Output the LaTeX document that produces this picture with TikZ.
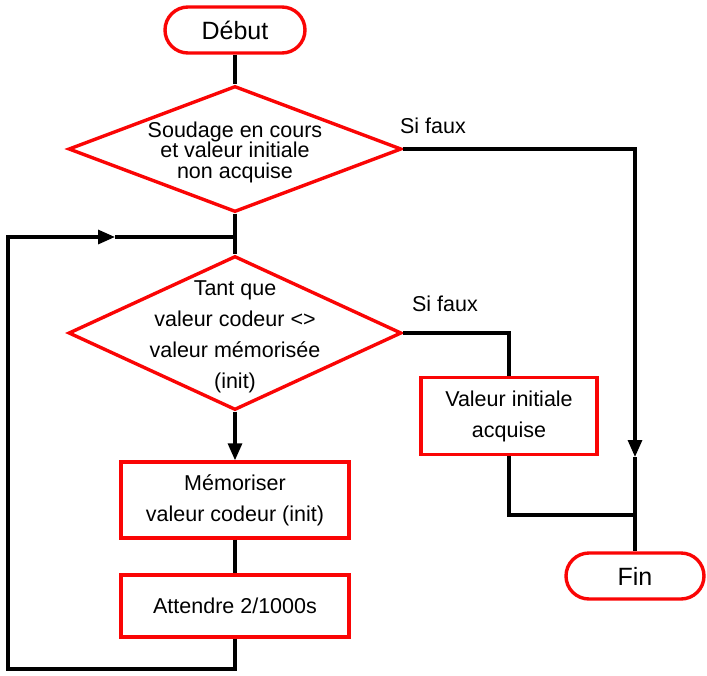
\documentclass[tikz,border=0pt]{standalone}
\usepackage{fontspec}
\setmainfont{Liberation Sans}
\usetikzlibrary{shapes.geometric,arrows.meta}

\definecolor{boxred}{RGB}{250,5,5}

\begin{document}
\begin{tikzpicture}[x=1pt, y=-1pt,
  every node/.style={align=center, font=\fontsize{21.5}{31}\selectfont},
  terminal/.style={draw=boxred, line width=3.4pt, rounded corners=23pt,
    minimum width=140pt, minimum height=46pt, inner sep=0pt,
    font=\fontsize{25}{30}\selectfont},
  decision/.style={diamond, draw=boxred, line width=3.4pt, inner sep=0pt,
    minimum width=333pt},
  process/.style={draw=boxred, line width=3.4pt, inner sep=0pt},
  flow/.style={line width=3.2pt},
  tip/.style={-{Triangle[length=17pt,width=14pt]}}]

  \useasboundingbox (0,0) rectangle (707,675);

  % start and end
  \node[terminal] (start) at (235,30) {Début};
  \node[terminal, minimum width=138pt] (fin) at (635,576) {Fin};

  % first test
  \node[decision, minimum height=126pt] (cond1) at (235,149) {};
  \node[font=\fontsize{21.5}{20.5}\selectfont] (cond1txt) at (235,152)
    {Soudage en cours\\et valeur initiale\\non acquise};
  \node (lblno1) at (433,126) {Si faux};

  % loop test
  \node[decision, minimum height=154pt] (cond2) at (235,333) {};
  \node (cond2txt) at (235,337)
    {Tant que\\valeur codeur <>\\valeur mémorisée\\(init)};
  \node (lblno2) at (445,304) {Si faux};

  % actions
  \node[process, minimum width=176pt, minimum height=77pt] (init) at (509,416)
    {Valeur initiale\\acquise};
  \node[process, minimum width=228pt, minimum height=76pt] (mem) at (235,500)
    {Mémoriser\\valeur codeur (init)};
  \node[process, minimum width=228pt, minimum height=62pt] (wait) at (235,606)
    {Attendre 2/1000s};

  % helper points
  \coordinate (junc) at (235,237);
  \coordinate (arr1) at (115,237);
  \coordinate (lt) at (8,237);
  \coordinate (lb) at (8,669);
  \coordinate (arr2) at (635,457);
  \coordinate (join) at (635,515);

  % connectors
  \draw[flow] (start.south) -- (cond1.north);
  \draw[flow] (cond1.south) -- (cond2.north);
  \draw[flow, tip] (cond1.east) -| (arr2);
  \draw[flow] (arr2) -- (fin.north);
  \draw[flow] (cond2.east) -| (init.north);
  \draw[flow] (init.south) |- (join);
  \draw[flow, tip] (cond2.south) -- (mem.north);
  \draw[flow] (mem.south) -- (wait.north);
  \draw[flow, tip] (wait.south) |- (lb) -- (lt) -- (arr1);
  \draw[flow] (arr1) -- (junc);

\end{tikzpicture}
\end{document}
